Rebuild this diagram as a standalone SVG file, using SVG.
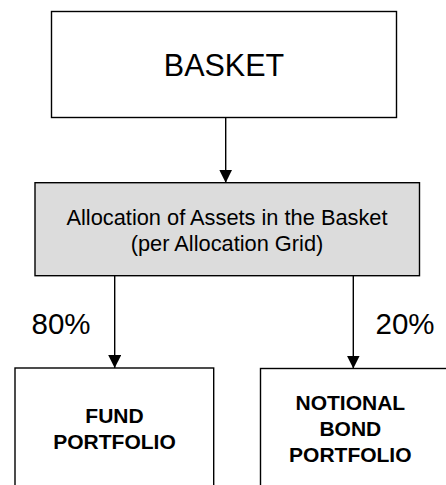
<svg xmlns="http://www.w3.org/2000/svg" width="446" height="485" viewBox="0 0 446 485">
<defs>
<marker id="ah" markerUnits="userSpaceOnUse" markerWidth="14" markerHeight="13" refX="13" refY="6.5" orient="auto">
<path d="M0,0 L13,6.5 L0,13 Z" fill="#000"/>
</marker>
<style>
.box{fill:#fff;stroke:#000;stroke-width:1.4}
.gray{fill:#dcdcdc;stroke:#000;stroke-width:1.4}
.t{font-family:"Liberation Sans",Arial,sans-serif;fill:#000;text-anchor:middle}
.b{font-weight:bold;font-size:21px}
.conn{stroke:#000;stroke-width:1.4;fill:none}
</style>
</defs>
<rect width="446" height="485" fill="#fff"/>
<g id="basket">
<rect class="box" x="51.5" y="11.5" width="345" height="106"/>
<text class="t" x="224" y="76" font-size="30.5">BASKET</text>
</g>
<g id="allocation">
<rect class="gray" x="35" y="182.7" width="384.5" height="93"/>
<text class="t" x="227" y="225" font-size="21.8">Allocation of Assets in the Basket</text>
<text class="t" x="227" y="251" font-size="21.8">(per Allocation Grid)</text>
</g>
<g id="fund">
<rect class="box" x="15" y="368" width="198.7" height="130"/>
<text class="t b" x="114.5" y="422.7">FUND</text>
<text class="t b" x="114.5" y="449.3">PORTFOLIO</text>
</g>
<g id="bond">
<rect class="box" x="260.5" y="368.5" width="190" height="130"/>
<text class="t b" x="350.3" y="410">NOTIONAL</text>
<text class="t b" x="350.3" y="436">BOND</text>
<text class="t b" x="350.3" y="461.7">PORTFOLIO</text>
</g>
<g id="connectors">
<line class="conn" x1="225.7" y1="117.5" x2="225.7" y2="182.7" marker-end="url(#ah)"/>
<line class="conn" x1="114.7" y1="275.7" x2="114.7" y2="368" marker-end="url(#ah)"/>
<line class="conn" x1="353.3" y1="275.7" x2="353.3" y2="368.5" marker-end="url(#ah)"/>
<text class="t" x="61" y="334" font-size="29.5">80%</text>
<text class="t" x="405" y="334" font-size="29.5">20%</text>
</g>
</svg>
